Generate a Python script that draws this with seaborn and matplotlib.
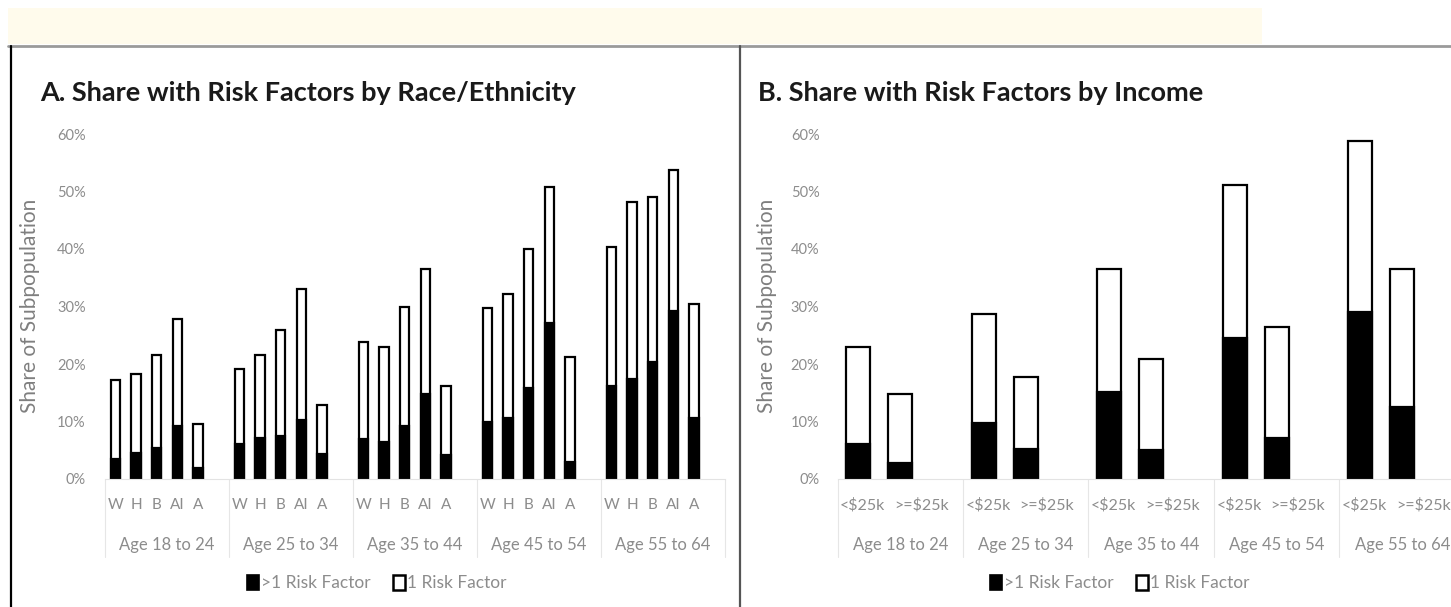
import matplotlib
matplotlib.use("Agg")
import matplotlib.pyplot as plt
import matplotlib.transforms as mtransforms
from matplotlib.patches import Patch, Rectangle
from matplotlib.lines import Line2D
import numpy as np
import pandas as pd
import seaborn as sns

# ---- data (percent of subpopulation) ----------------------------------------
age_groups = ["Age 18 to 24", "Age 25 to 34", "Age 35 to 44", "Age 45 to 54", "Age 55 to 64"]

race_labels = ["W", "H", "B", "AI", "A"]
race_total = [
    [17.2, 18.2, 21.6, 27.8, 9.5],
    [19.1, 21.6, 25.9, 33.0, 12.9],
    [23.8, 23.0, 30.0, 36.6, 16.2],
    [29.7, 32.2, 40.0, 50.8, 21.3],
    [40.4, 48.1, 49.1, 53.7, 30.4],
]
race_multi = [
    [3.4, 4.6, 5.4, 9.2, 1.9],
    [6.1, 7.2, 7.5, 10.3, 4.3],
    [7.0, 6.5, 9.3, 14.8, 4.2],
    [10.0, 10.6, 15.9, 27.2, 3.0],
    [16.1, 17.4, 20.4, 29.2, 10.6],
]

income_labels = ["<$25k", ">=$25k"]
income_total = [
    [22.9, 14.7],
    [28.7, 17.8],
    [36.6, 20.9],
    [51.1, 26.4],
    [58.8, 36.6],
]
income_multi = [
    [6.1, 2.8],
    [9.8, 5.2],
    [15.2, 5.0],
    [24.6, 7.2],
    [29.0, 12.6],
]

W, H = 1451, 607
GREY_TXT = "#8c8c8c"

sns.set_style("white")
plt.rcParams["font.family"] = ["Lato", "DejaVu Sans"]


def build_frame(labels, totals, multis):
    n = len(labels)
    rows = []
    for g, age in enumerate(age_groups):
        for j, lab in enumerate(labels):
            rows.append({"age": age, "cat": lab, "pos": g * (n + 1) + j,
                         "total": totals[g][j], "multi": multis[g][j]})
    return pd.DataFrame(rows), n


def draw_panel(ax, labels, totals, multis, width, ypad, label_shift, catsize):
    df, n = build_frame(labels, totals, multis)
    slot = n + 1
    sns.barplot(data=df, x="pos", y="total", native_scale=True, width=width,
                color="white", edgecolor="black", linewidth=1.6, saturation=1,
                errorbar=None, ax=ax)
    sns.barplot(data=df, x="pos", y="multi", native_scale=True, width=width,
                color="black", edgecolor="black", linewidth=1.6, saturation=1,
                errorbar=None, ax=ax)
    ax.set_xlim(-0.5, len(age_groups) * slot - 0.5)
    ax.set_ylim(0, 60)
    ax.set_yticks(np.arange(0, 61, 10))
    ax.set_yticklabels([f"{v}%" for v in range(0, 61, 10)])
    # Excel nudges the wide category labels, so allow a per-label shift
    shifts = np.tile(label_shift, len(age_groups))
    ax.set_xticks(df["pos"] + shifts)
    ax.set_xticklabels(df["cat"])
    ax.tick_params(axis="x", length=0, pad=14, labelsize=catsize, labelcolor=GREY_TXT)
    ax.tick_params(axis="y", length=0, pad=ypad, labelsize=10.5, labelcolor=GREY_TXT)
    ax.set_xlabel("")
    ax.set_ylabel("")
    for s in ["top", "right", "left"]:
        ax.spines[s].set_visible(False)
    ax.spines["bottom"].set_color("#e3e3e3")
    ax.spines["bottom"].set_linewidth(0.8)
    ax.patch.set_alpha(0)

    trans = mtransforms.blended_transform_factory(ax.transData, ax.transAxes)
    for g, age in enumerate(age_groups):
        ax.text(g * slot + (slot - 1) / 2, -0.19, age, transform=trans,
                ha="center", va="center", fontsize=12, color=GREY_TXT)
    for g in range(len(age_groups) + 1):
        ax.add_line(Line2D([g * slot - 0.5] * 2, [0, -0.226], transform=trans,
                           color="#e6e6e6", lw=0.8, clip_on=False))


fig = plt.figure(figsize=(W / 100, H / 100), dpi=100)
fig.patch.set_facecolor("white")

# page decorations: cream band, grey rule, panel borders
fig.patches.append(Rectangle((8 / W, 1 - 44 / H), (1262 - 8) / W, 36 / H,
                             transform=fig.transFigure, facecolor="#fffbec",
                             edgecolor="none", zorder=0))
fig.lines.append(Line2D([8 / W, 1], [1 - 45.5 / H] * 2, transform=fig.transFigure,
                        color="#9a9a9a", lw=2))
fig.lines.append(Line2D([11 / W] * 2, [1 - 46 / H, 0], transform=fig.transFigure,
                        color="black", lw=1.6))
fig.lines.append(Line2D([740 / W] * 2, [1 - 46 / H, 0], transform=fig.transFigure,
                        color="#555555", lw=1.6))

ax_a = fig.add_axes([105 / W, 1 - 479 / H, 620 / W, 345 / H])
ax_b = fig.add_axes([837.5 / W, 1 - 479 / H, 627.5 / W, 345 / H])

draw_panel(ax_a, race_labels, race_total, race_multi, width=0.44, ypad=14,
           label_shift=[0, 0, 0, 0, 0], catsize=11)
draw_panel(ax_b, income_labels, income_total, income_multi, width=0.57, ypad=13,
           label_shift=[0.1, 0.5], catsize=11.5)

fig.text(40 / W, 1 - 93 / H, "A. Share with Risk Factors by Race/Ethnicity",
         fontsize=19.5, fontweight="bold", color="#1a1a1a", va="center", ha="left")
fig.text(758 / W, 1 - 93 / H, "B. Share with Risk Factors by Income",
         fontsize=19.5, fontweight="bold", color="#1a1a1a", va="center", ha="left")

fig.text(30 / W, 1 - 306 / H, "Share of Subpopulation", rotation=90,
         fontsize=15, color="#7f7f7f", va="center", ha="center")
fig.text(767 / W, 1 - 306 / H, "Share of Subpopulation", rotation=90,
         fontsize=15, color="#7f7f7f", va="center", ha="center")

handles = [Patch(facecolor="black", edgecolor="black", lw=1.2),
           Patch(facecolor="white", edgecolor="black", lw=1.8)]
names = [">1 Risk Factor", "1 Risk Factor"]
for cx in (377, 1120):
    fig.legend(handles, names, loc="center", bbox_to_anchor=(cx / W, 1 - 583 / H),
               ncol=2, frameon=False, fontsize=12.5, labelcolor=GREY_TXT,
               handlelength=0.65, handleheight=1.0, handletextpad=0.15,
               columnspacing=1.3)

fig.savefig("out.png", dpi=100)
